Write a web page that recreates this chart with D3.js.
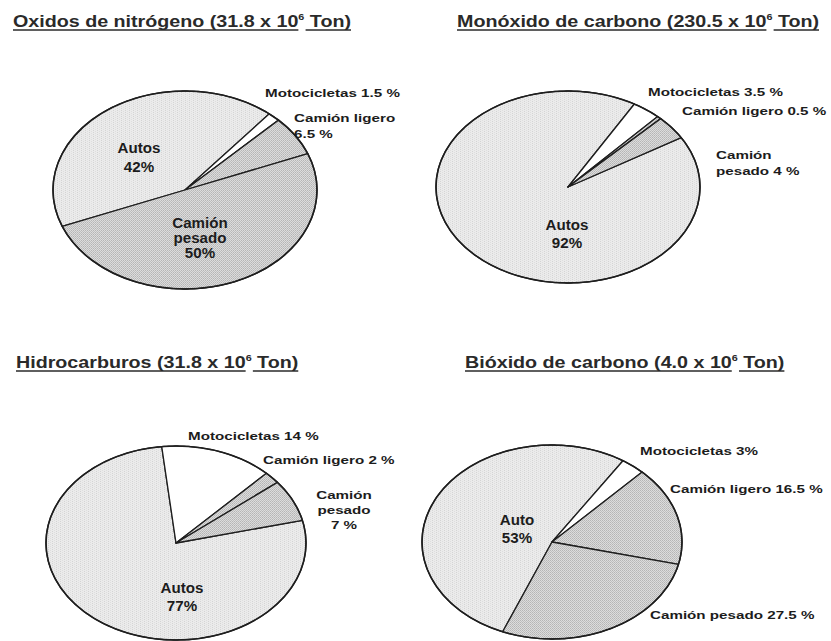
<!DOCTYPE html>
<html>
<head>
<meta charset="utf-8">
<script src="https://cdn.jsdelivr.net/npm/d3@7"></script>
<style>
  body { margin: 0; background: #fff; }
  svg { display: block; }
  text { font-family: "Liberation Sans", Arial, sans-serif; font-weight: bold; fill: #1c1c1c; }
</style>
</head>
<body>
<svg id="chart" width="831" height="641"></svg>
<script>
// Vehicle share of emissions, by pollutant (percent)
const categories = ["Autos", "Motocicletas", "Camión ligero", "Camión pesado"];
const pollutants = ["Oxidos de nitrógeno", "Monóxido de carbono", "Hidrocarburos", "Bióxido de carbono"];
const totals = [31.8, 230.5, 31.8, 4.0];          // x 10^6 Ton
const nitrogenOxides = [42, 1.5, 6.5, 50];
const carbonMonoxide = [92, 3.5, 0.5, 4];
const hydrocarbons   = [77, 14, 2, 7];
const carbonDioxide  = [53, 3, 16.5, 27.5];
const seriesByChart = [nitrogenOxides, carbonMonoxide, hydrocarbons, carbonDioxide];

// Placement of each pie (ellipse centre/radii, start angle in degrees) and its labels
const layout = [
  { title: [13, 27], cx: 185, cy: 190, rx: 132, ry: 99, start: 248.5,
    labels: [
      { x: 139, y: 153, anchor: "middle", kind: "in", lh: 19, lines: ["{n}", "{v}%"] },
      { x: 265, y: 97,  anchor: "start", kind: "out", lines: ["{n} {v} %"] },
      { x: 294, y: 122, anchor: "start", kind: "out", lh: 16, lines: ["{n}", "{v} %"] },
      { x: 200, y: 228, anchor: "middle", kind: "in", lh: 15, lines: ["{n0}", "{n1}", "{v}%"] }
    ] },
  { title: [457, 27], cx: 568, cy: 187, rx: 132, ry: 96, start: 59,
    labels: [
      { x: 567, y: 230, anchor: "middle", kind: "in", lh: 18, lines: ["{n}", "{v}%"] },
      { x: 648, y: 96,  anchor: "start", kind: "out", lines: ["{n} {v} %"] },
      { x: 682, y: 115, anchor: "start", kind: "out", lines: ["{n} {v} %"] },
      { x: 716, y: 159, anchor: "start", kind: "out", lh: 16, lines: ["{n0}", "{n1} {v} %"] }
    ] },
  { title: [16, 368], cx: 176, cy: 543, rx: 130, ry: 97, start: 76.5,
    labels: [
      { x: 182, y: 593, anchor: "middle", kind: "in", lh: 18, lines: ["{n}", "{v}%"] },
      { x: 188, y: 440, anchor: "start", kind: "out", lines: ["{n} {v} %"] },
      { x: 263, y: 464, anchor: "start", kind: "out", lines: ["{n} {v} %"] },
      { x: 344, y: 499, anchor: "middle", kind: "out", lh: 15, lines: ["{n0}", "{n1}", "{v} %"] }
    ] },
  { title: [465, 368], cx: 552, cy: 542, rx: 130, ry: 97, start: 202.3,
    labels: [
      { x: 517, y: 525, anchor: "middle", kind: "in", lh: 18, lines: ["Auto", "{v}%"] },
      { x: 640, y: 455, anchor: "start", kind: "out", lines: ["{n} {v}%"] },
      { x: 670, y: 493, anchor: "start", kind: "out", lines: ["{n} {v} %"] },
      { x: 650, y: 619, anchor: "start", kind: "out", lines: ["{n} {v} %"] }
    ] }
];

const textStyle = {
  title: { size: 16.4, sx: 1.2 },
  in:    { size: 14,   sx: 1.08 },
  out:   { size: 11,   sx: 1.38 }
};

const svg = d3.select("#chart");
const defs = svg.append("defs");

// light stipple for cars
const pAutos = defs.append("pattern").attr("id", "fillAutos")
  .attr("patternUnits", "userSpaceOnUse").attr("width", 4).attr("height", 2);
pAutos.append("rect").attr("width", 4).attr("height", 2).attr("fill", "#ebebeb");
pAutos.append("rect").attr("x", 0).attr("y", 0).attr("width", 1).attr("height", 1).attr("fill", "#d4d4d4");
pAutos.append("rect").attr("x", 2).attr("y", 1).attr("width", 1).attr("height", 1).attr("fill", "#dedede");

// checkered grey for trucks
const pTruck = defs.append("pattern").attr("id", "fillTruck")
  .attr("patternUnits", "userSpaceOnUse").attr("width", 2).attr("height", 2);
pTruck.append("rect").attr("width", 2).attr("height", 2).attr("fill", "#dcdcdc");
pTruck.append("rect").attr("x", 0).attr("y", 0).attr("width", 1).attr("height", 1).attr("fill", "#b5b5b5");
pTruck.append("rect").attr("x", 1).attr("y", 1).attr("width", 1).attr("height", 1).attr("fill", "#bfbfbf");

const fillOf = d3.scaleOrdinal()
  .domain(categories)
  .range(["url(#fillAutos)", "#ffffff", "url(#fillTruck)", "url(#fillTruck)"]);

const line = d3.line();

// elliptical sector between two clock angles (radians, 0 = 12 o'clock)
function sector(a0, a1, rx, ry) {
  const steps = Math.max(2, Math.ceil((a1 - a0) / (Math.PI / 180)));
  const pts = [[0, 0]];
  d3.range(steps + 1).forEach(i => {
    const a = a0 + (a1 - a0) * i / steps;
    pts.push([rx * Math.sin(a), -ry * Math.cos(a)]);
  });
  return line(pts) + "Z";
}

function placeText(x, y, anchor, style) {
  const g = svg.append("g").attr("transform", `translate(${x},${y}) scale(${style.sx},1)`);
  return g.append("text").attr("text-anchor", anchor).style("font-size", style.size + "px");
}

seriesByChart.forEach((values, ci) => {
  const L = layout[ci];
  const rad = Math.PI / 180;
  const pie = d3.pie().sort(null).value(d => d.value)
    .startAngle(L.start * rad).endAngle(L.start * rad + 2 * Math.PI);
  const arcs = pie(values.map((v, i) => ({ name: categories[i], value: v })));

  const g = svg.append("g").attr("transform", `translate(${L.cx},${L.cy})`);
  g.selectAll("path.slice").data(arcs).join("path")
    .attr("class", "slice")
    .attr("d", d => sector(d.startAngle, d.endAngle, L.rx, L.ry))
    .attr("fill", d => fillOf(d.data.name))
    .attr("stroke", "#1e1e1e")
    .attr("stroke-width", 1.3)
    .attr("stroke-linejoin", "round");
  g.append("ellipse").attr("rx", L.rx).attr("ry", L.ry)
    .attr("fill", "none").attr("stroke", "#1e1e1e").attr("stroke-width", 1.6);

  // labels
  arcs.forEach((d, i) => {
    const lab = L.labels[i];
    const words = d.data.name.split(" ");
    const st = textStyle[lab.kind];
    const t = placeText(lab.x, lab.y, lab.anchor, st);
    lab.lines.forEach((tpl, li) => {
      const s = tpl.replace("{n0}", words[0]).replace("{n1}", words[1] || "")
        .replace("{n}", d.data.name).replace("{v}", String(d.data.value));
      t.append("tspan").attr("x", 0).attr("dy", li === 0 ? 0 : (lab.lh || 16)).text(s);
    });
  });

  // underlined title with superscript exponent
  const st = textStyle.title;
  const tg = svg.append("g").attr("transform", `translate(${L.title[0]},${L.title[1]}) scale(${st.sx},1)`);
  const tt = tg.append("text").attr("text-anchor", "start").style("font-size", st.size + "px").style("fill", "#2a2a2a");
  const s1 = tt.append("tspan").text(`${pollutants[ci]} (${totals[ci].toFixed(1)} x 10`);
  const s2 = tt.append("tspan").attr("dy", -7).style("font-size", "9px").text("6");
  const s3 = tt.append("tspan").attr("dy", 7).text(" Ton)");
  const w1 = s1.node().getComputedTextLength();
  const w2 = s2.node().getComputedTextLength();
  const w3 = s3.node().getComputedTextLength();
  tg.append("line").attr("x1", 0).attr("x2", w1).attr("y1", 3).attr("y2", 3)
    .attr("stroke", "#2a2a2a").attr("stroke-width", 1.3);
  tg.append("line").attr("x1", w1 + w2 + 1).attr("x2", w1 + w2 + w3).attr("y1", 3).attr("y2", 3)
    .attr("stroke", "#2a2a2a").attr("stroke-width", 1.3);
});
</script>
</body>
</html>
